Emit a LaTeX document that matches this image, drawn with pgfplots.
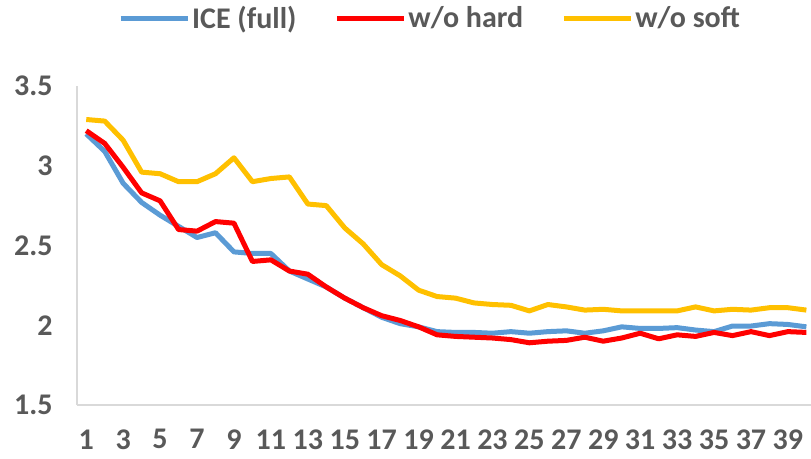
\documentclass[border=0pt]{standalone}
\usepackage{pgfplots}
\pgfplotsset{compat=1.18}
\usepackage{fontspec}
\setmainfont{Carlito}

\definecolor{txtgray}{HTML}{595959}
\definecolor{axgray}{HTML}{D9D9D9}
\definecolor{iceblue}{HTML}{5B9BD5}
\definecolor{hardred}{HTML}{FF0000}
\definecolor{softgold}{HTML}{FFC000}

\begin{document}
\begin{tikzpicture}
\path[use as bounding box] (0,0) rectangle (811bp,459bp);
\begin{axis}[
  at={(77bp,54bp)}, anchor=south west,
  scale only axis,
  width=734bp, height=319bp,
  xmin=0.5, xmax=40.25,
  ymin=1.5, ymax=3.5,
  axis lines*=left,
  axis line style={draw=axgray, line width=1.3bp},
  major tick length=0pt,
  xtick={1,3,...,39},
  ytick={1.5,2,2.5,3,3.5},
  /pgf/number format/assume math mode=true,
  tick label style={font=\fontsize{30bp}{34bp}\selectfont\bfseries, text=txtgray},
  yticklabel style={xshift=-21bp},
  xticklabel style={yshift=-21bp},
  clip=false,
  legend columns=3,
  legend style={
    at={(0.481,1.213)}, anchor=center,
    draw=none, fill=none,
    font=\fontsize{30bp}{34bp}\selectfont\bfseries,
    text=txtgray,
    cells={anchor=west},
    /tikz/every even column/.append style={column sep=36bp},
  },
  legend image code/.code={\draw[#1, line width=5bp] (0bp,0bp) -- (67bp,0bp);},
  every axis plot/.append style={line width=5bp, line join=round, mark=none},
]
\addplot[color=iceblue] coordinates {
(1,3.20) (2,3.09) (3,2.89) (4,2.77) (5,2.69) (6,2.62) (7,2.55) (8,2.58) (9,2.46) (10,2.45)
(11,2.45) (12,2.34) (13,2.29) (14,2.24) (15,2.17) (16,2.11) (17,2.05) (18,2.01) (19,1.99) (20,1.96)
(21,1.955) (22,1.955) (23,1.95) (24,1.96) (25,1.95) (26,1.96) (27,1.965) (28,1.95) (29,1.965) (30,1.99)
(31,1.98) (32,1.98) (33,1.985) (34,1.97) (35,1.96) (36,1.995) (37,1.995) (38,2.01) (39,2.005) (40,1.99)
};
\addlegendentry{ICE (full)}
\addplot[color=hardred] coordinates {
(1,3.22) (2,3.14) (3,2.99) (4,2.83) (5,2.78) (6,2.60) (7,2.59) (8,2.65) (9,2.64) (10,2.40)
(11,2.41) (12,2.34) (13,2.32) (14,2.24) (15,2.17) (16,2.11) (17,2.06) (18,2.03) (19,1.99) (20,1.94)
(21,1.93) (22,1.925) (23,1.92) (24,1.91) (25,1.89) (26,1.90) (27,1.905) (28,1.925) (29,1.90) (30,1.92)
(31,1.95) (32,1.915) (33,1.94) (34,1.93) (35,1.955) (36,1.935) (37,1.96) (38,1.935) (39,1.96) (40,1.955)
};
\addlegendentry{w/o hard}
\addplot[color=softgold] coordinates {
(1,3.29) (2,3.28) (3,3.16) (4,2.96) (5,2.95) (6,2.90) (7,2.90) (8,2.95) (9,3.05) (10,2.90)
(11,2.92) (12,2.93) (13,2.76) (14,2.75) (15,2.61) (16,2.51) (17,2.38) (18,2.31) (19,2.22) (20,2.18)
(21,2.17) (22,2.14) (23,2.13) (24,2.125) (25,2.09) (26,2.13) (27,2.115) (28,2.095) (29,2.10) (30,2.09)
(31,2.09) (32,2.09) (33,2.09) (34,2.115) (35,2.09) (36,2.10) (37,2.095) (38,2.11) (39,2.11) (40,2.095)
};
\addlegendentry{w/o soft}
\end{axis}
\end{tikzpicture}
\end{document}
